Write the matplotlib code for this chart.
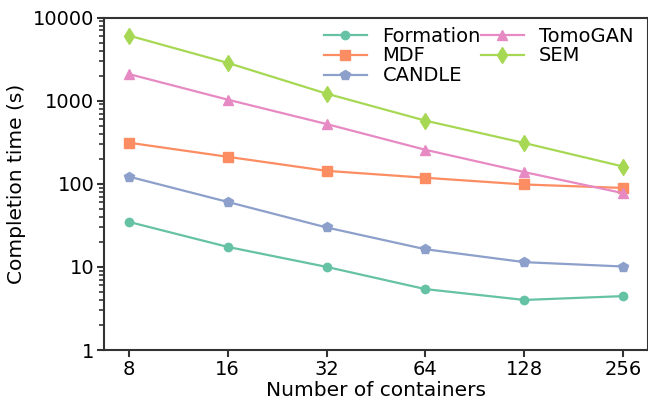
import matplotlib
matplotlib.use("Agg")
import matplotlib.pyplot as plt
import numpy as np

containers = ["8", "16", "32", "64", "128", "256"]
formation = [34.8, 17.4, 10.0, 5.4, 4.0, 4.45]
mdf = [312, 211, 143, 118, 98, 89]
candle = [122, 60.5, 29.8, 16.3, 11.4, 10.1]
tomogan = [2090, 1028, 523, 256, 138, 77]
sem = [6070, 2845, 1214, 574, 309, 161]

series = [
    ("Formation", formation, "#66c2a5", "o", 6),
    ("MDF", mdf, "#fc8d62", "s", 7),
    ("CANDLE", candle, "#8da0cb", "p", 7),
    ("TomoGAN", tomogan, "#e78ac3", "^", 7),
    ("SEM", sem, "#a6d854", "d", 8),
]

fig = plt.figure(figsize=(6.48, 4.01), dpi=100)
ax = fig.add_axes([104/648, 1-350/401, 1-104/648, (350-17.5)/401])
x = np.arange(len(containers))
for name, vals, c, m, ms in series:
    ax.plot(x, vals, color=c, marker=m, markersize=ms, linewidth=1.6, label=name)

ax.set_yscale("log")
ax.set_ylim(1, 10000)
ax.set_xlim(-0.25, 5.25)
ax.set_xticks(x)
ax.set_xticklabels(containers)
ax.set_yticks([1, 10, 100, 1000, 10000])
ax.set_yticklabels(["1", "10", "100", "1000", "10000"])
ax.tick_params(axis="both", which="major", labelsize=14, length=5, width=1.5,
               color="#333333", pad=2)
ax.tick_params(axis="y", which="minor", length=3.5, width=1.2, color="#333333")
for s in ax.spines.values():
    s.set_linewidth(1.5)
    s.set_color("#333333")
ax.set_xlabel("Number of containers", fontsize=14.5, labelpad=2)
ax.set_ylabel("Completion time (s)", fontsize=14.5, labelpad=5)
ax.legend(loc="upper right", ncol=2, frameon=False, fontsize=14,
          borderpad=0.1, labelspacing=0.05, columnspacing=0.0, handlelength=2.2,
          handletextpad=0.8, bbox_to_anchor=(0.995, 1.008))
fig.savefig("out.png", dpi=100)
